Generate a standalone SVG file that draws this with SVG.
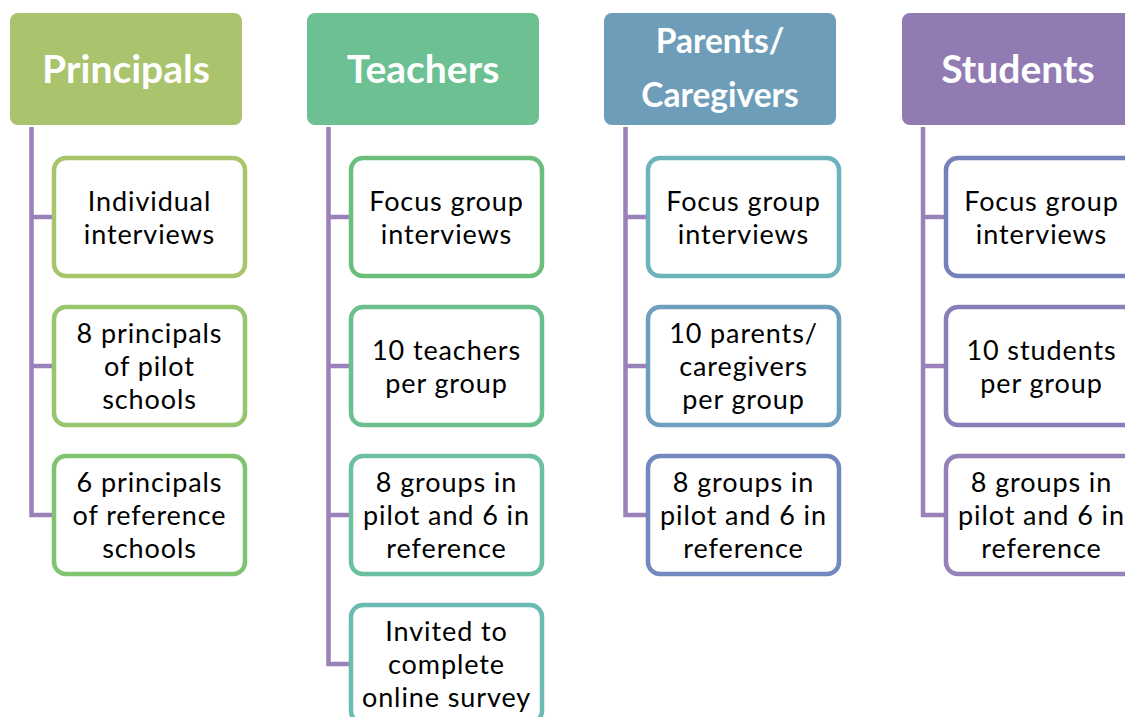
<svg xmlns="http://www.w3.org/2000/svg" width="1125" height="717" viewBox="0 0 1125 717">
<style>
.hdr{stroke:none}
.ht{font-family:Lato,"Open Sans",sans-serif;font-weight:bold;fill:#fff;text-anchor:middle}
.box{fill:#fff;stroke-width:4.5}
.bt{font-family:Lato,"Open Sans",sans-serif;font-size:27px;letter-spacing:0.9px;fill:#000;text-anchor:middle}
.con{fill:none;stroke:#9B81B9;stroke-width:4.5;stroke-linejoin:miter}
</style>
<rect width="1125" height="717" fill="#fff"/>
<g id="connectors">
<path class="con" d="M31.5,127 V515 H54 M31.5,217 H54 M31.5,366 H54"/>
<path class="con" d="M328.5,127 V664 H351 M328.5,217 H351 M328.5,366 H351 M328.5,515 H351"/>
<path class="con" d="M625.5,127 V515 H648 M625.5,217 H648 M625.5,366 H648"/>
<path class="con" d="M923,127 V515 H946 M923,217 H946 M923,366 H946"/>
</g>
<g id="principals">
<rect class="hdr" x="10" y="13" width="232" height="112" rx="8" fill="#A9C46C"/>
<text class="ht" x="126" y="83" font-size="39">Principals</text>
</g>
<g id="p1"><rect class="box" x="54" y="158" width="191" height="118" rx="12" stroke="#A8C56C"/>
<text class="bt"><tspan x="149.5" y="210.5">Individual</tspan><tspan x="149.5" y="243.5">interviews</tspan></text></g>
<g id="p2"><rect class="box" x="54" y="307" width="191" height="118" rx="12" stroke="#98C66E"/>
<text class="bt"><tspan x="149.5" y="343">8 principals</tspan><tspan x="149.5" y="376">of pilot</tspan><tspan x="149.5" y="409">schools</tspan></text></g>
<g id="p3"><rect class="box" x="54" y="456" width="191" height="118" rx="12" stroke="#80C471"/>
<text class="bt"><tspan x="149.5" y="492">6 principals</tspan><tspan x="149.5" y="525">of reference</tspan><tspan x="149.5" y="558">schools</tspan></text></g>

<g id="teachers">
<rect class="hdr" x="307" y="13" width="232" height="112" rx="8" fill="#6CC092"/>
<text class="ht" x="423" y="83" font-size="39">Teachers</text>
</g>
<g id="t1"><rect class="box" x="351" y="158" width="191" height="118" rx="12" stroke="#6BBF7D"/>
<text class="bt"><tspan x="446.5" y="210.5">Focus group</tspan><tspan x="446.5" y="243.5">interviews</tspan></text></g>
<g id="t2"><rect class="box" x="351" y="307" width="191" height="118" rx="12" stroke="#6BBF8E"/>
<text class="bt"><tspan x="446.5" y="359.5">10 teachers</tspan><tspan x="446.5" y="392.5">per group</tspan></text></g>
<g id="t3"><rect class="box" x="351" y="456" width="191" height="118" rx="12" stroke="#6CBF9F"/>
<text class="bt"><tspan x="446.5" y="492">8 groups in</tspan><tspan x="446.5" y="525">pilot and 6 in</tspan><tspan x="446.5" y="558">reference</tspan></text></g>
<g id="t4"><rect class="box" x="351" y="605" width="191" height="118" rx="12" stroke="#6CBAB4"/>
<text class="bt"><tspan x="446.5" y="641">Invited to</tspan><tspan x="446.5" y="674">complete</tspan><tspan x="446.5" y="707">online survey</tspan></text></g>

<g id="parents">
<rect class="hdr" x="604" y="13" width="232" height="112" rx="8" fill="#6E9DB9"/>
<text class="ht" font-size="33.5"><tspan x="720" y="53">Parents/</tspan><tspan x="720" y="107">Caregivers</tspan></text>
</g>
<g id="pc1"><rect class="box" x="648" y="158" width="191" height="118" rx="12" stroke="#6CB3BC"/>
<text class="bt"><tspan x="743.5" y="210.5">Focus group</tspan><tspan x="743.5" y="243.5">interviews</tspan></text></g>
<g id="pc2"><rect class="box" x="648" y="307" width="191" height="118" rx="12" stroke="#6F9FBE"/>
<text class="bt"><tspan x="743.5" y="343">10 parents/</tspan><tspan x="743.5" y="376">caregivers</tspan><tspan x="743.5" y="409">per group</tspan></text></g>
<g id="pc3"><rect class="box" x="648" y="456" width="191" height="118" rx="12" stroke="#7189BE"/>
<text class="bt"><tspan x="743.5" y="492">8 groups in</tspan><tspan x="743.5" y="525">pilot and 6 in</tspan><tspan x="743.5" y="558">reference</tspan></text></g>

<g id="students">
<rect class="hdr" x="902" y="13" width="232" height="112" rx="8" fill="#917BB2"/>
<text class="ht" x="1018" y="83" font-size="39">Students</text>
</g>
<g id="s1"><rect class="box" x="946" y="158" width="191" height="118" rx="12" stroke="#7680BA"/>
<text class="bt"><tspan x="1041.5" y="210.5">Focus group</tspan><tspan x="1041.5" y="243.5">interviews</tspan></text></g>
<g id="s2"><rect class="box" x="946" y="307" width="191" height="118" rx="12" stroke="#8680B8"/>
<text class="bt"><tspan x="1041.5" y="359.5">10 students</tspan><tspan x="1041.5" y="392.5">per group</tspan></text></g>
<g id="s3"><rect class="box" x="946" y="456" width="191" height="118" rx="12" stroke="#9580B8"/>
<text class="bt"><tspan x="1041.5" y="492">8 groups in</tspan><tspan x="1041.5" y="525">pilot and 6 in</tspan><tspan x="1041.5" y="558">reference</tspan></text></g>
</svg>
